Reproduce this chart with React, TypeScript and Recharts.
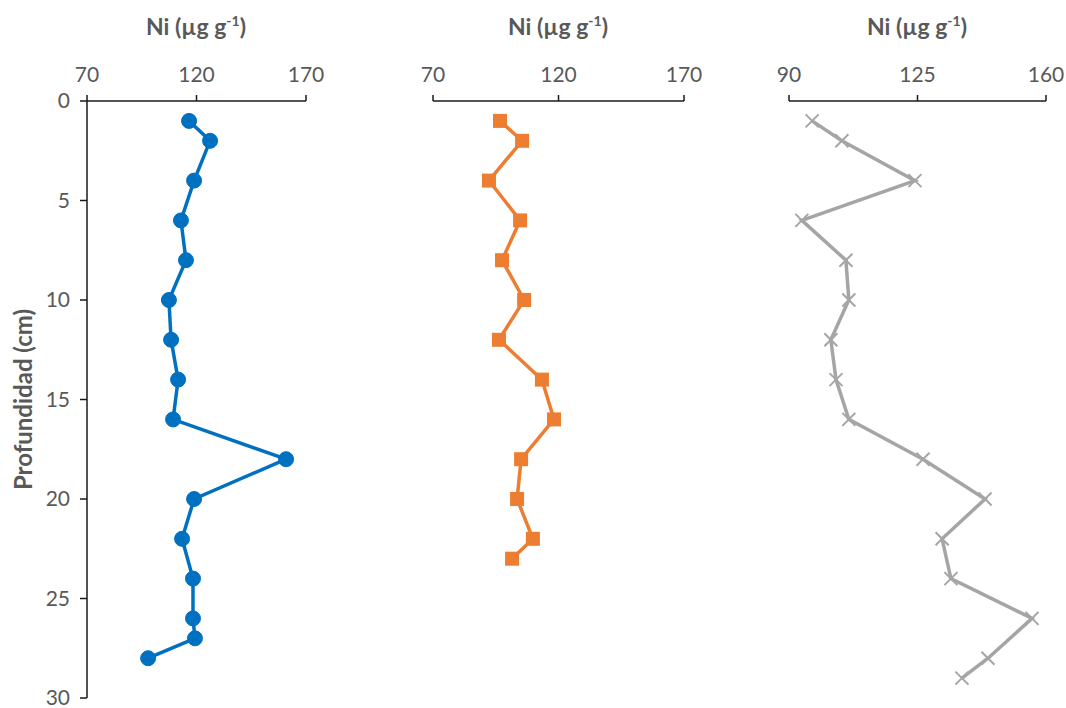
import React from "react";
import { LineChart, Line, XAxis, YAxis } from "recharts";

// Ni profiles, depth in cm
const blueDepth = [1, 2, 4, 6, 8, 10, 12, 14, 16, 18, 20, 22, 24, 26, 27, 28];
const blueNi = [116.6, 126.2, 118.9, 112.9, 115.2, 107.4, 108.4, 111.6, 109.3, 160.9, 118.9, 113.4, 118.4, 118.4, 119.3, 97.9];

const orangeDepth = [1, 2, 4, 6, 8, 10, 12, 14, 16, 18, 20, 22, 23];
const orangeNi = [96.7, 105.5, 92.3, 104.7, 97.5, 106.3, 96.3, 113.4, 118.2, 105.1, 103.5, 109.8, 101.5];

const grayDepth = [1, 2, 4, 6, 8, 10, 12, 14, 16, 18, 20, 22, 24, 26, 28, 29];
const grayNi = [96.3, 104.4, 124.3, 93.5, 105.5, 106.3, 101.4, 102.8, 106.3, 126.5, 143.4, 131.7, 134.1, 156.2, 144.2, 137.1];

const depthTicks = [0, 5, 10, 15, 20, 25, 30];
const niTicksA = [70, 120, 170];
const niTicksB = [90, 125, 160];

const toRows = (depth: number[], ni: number[]) =>
  depth.map((d, i) => ({ depth: d, ni: ni[i] }));

const FONT = "Lato, 'Open Sans', sans-serif";
const TEXT = "#595959";
const AXIS = "#1a1a1a";

const tickStyle = { fill: TEXT, fontSize: 21, fontFamily: FONT };

const SquareDot = (props: any) => {
  const { cx, cy } = props;
  if (cx == null || cy == null) return null;
  return <rect x={cx - 7} y={cy - 7} width={14} height={14} fill="#ED7D31" />;
};

const CrossDot = (props: any) => {
  const { cx, cy } = props;
  if (cx == null || cy == null) return null;
  const s = 6.5;
  return (
    <g stroke="#A5A5A5" strokeWidth={2}>
      <line x1={cx - s} y1={cy - s} x2={cx + s} y2={cy + s} />
      <line x1={cx - s} y1={cy + s} x2={cx + s} y2={cy - s} />
    </g>
  );
};

const DepthLabel = (props: any) => {
  const vb = props.viewBox || { x: 0, y: 0, height: 0 };
  const x = vb.x + 22;
  const y = vb.y + vb.height / 2;
  return (
    <text
      x={x}
      y={y}
      transform={`rotate(-90 ${x} ${y})`}
      textAnchor="middle"
      dominantBaseline="central"
      fill={TEXT}
      fontSize={24}
      fontWeight="bold"
      fontFamily={FONT}
    >
      Profundidad (cm)
    </text>
  );
};

const Title = ({ center }: { center: number }) => (
  <div
    style={{
      position: "absolute",
      left: center - 100,
      top: 12,
      width: 200,
      textAlign: "center",
      fontFamily: FONT,
      fontWeight: "bold",
      fontSize: 23,
      color: TEXT,
    }}
  >
    Ni (µg g<sup style={{ fontSize: 14 }}>-1</sup>)
  </div>
);

interface PanelProps {
  left: number;
  width: number;
  margin: { top: number; right: number; bottom: number; left: number };
  data: { depth: number; ni: number }[];
  domain: [number, number];
  ticks: number[];
  showDepth?: boolean;
  series: React.ReactNode;
}

function Panel({ left, width, margin, data, domain, ticks, showDepth, series }: PanelProps) {
  return (
    <div style={{ position: "absolute", left, top: 0 }}>
      <LineChart width={width} height={708} data={data} layout="vertical" margin={margin}>
        <XAxis
          type="number"
          orientation="top"
          domain={domain}
          ticks={ticks}
          height={101}
          tick={tickStyle}
          tickSize={6}
          tickMargin={13}
          interval={0}
          axisLine={{ stroke: AXIS, strokeWidth: 1.5 }}
          tickLine={{ stroke: AXIS, strokeWidth: 1.5 }}
          allowDataOverflow
        />
        <YAxis
          type="number"
          dataKey="depth"
          domain={[0, 30]}
          ticks={depthTicks}
          width={87}
          hide={!showDepth}
          tick={tickStyle}
          tickSize={7}
          tickMargin={10}
          interval={0}
          axisLine={{ stroke: AXIS, strokeWidth: 1.5 }}
          tickLine={{ stroke: AXIS, strokeWidth: 1.5 }}
          label={showDepth ? <DepthLabel /> : undefined}
        />
        {series}
      </LineChart>
    </div>
  );
}

export default function App() {
  return (
    <div style={{ position: "absolute", left: 0, top: 0, width: 1066, height: 708, background: "#fff" }}>
      <Panel
        left={0}
        width={340}
        margin={{ top: 0, right: 34, bottom: 10, left: 0 }}
        data={toRows(blueDepth, blueNi)}
        domain={[70, 170]}
        ticks={niTicksA}
        showDepth
        series={
          <Line
            dataKey="ni"
            stroke="#0070C0"
            strokeWidth={3.5}
            dot={{ r: 7.5, fill: "#0070C0", stroke: "#0070C0", strokeWidth: 1 }}
            isAnimationActive={false}
          />
        }
      />
      <Panel
        left={380}
        width={340}
        margin={{ top: 0, right: 36, bottom: 10, left: 53 }}
        data={toRows(orangeDepth, orangeNi)}
        domain={[70, 170]}
        ticks={niTicksA}
        series={
          <Line
            dataKey="ni"
            stroke="#ED7D31"
            strokeWidth={3.5}
            dot={<SquareDot />}
            isAnimationActive={false}
          />
        }
      />
      <Panel
        left={740}
        width={326}
        margin={{ top: 0, right: 20, bottom: 10, left: 49 }}
        data={toRows(grayDepth, grayNi)}
        domain={[90, 160]}
        ticks={niTicksB}
        series={
          <Line
            dataKey="ni"
            stroke="#A5A5A5"
            strokeWidth={3.5}
            dot={<CrossDot />}
            isAnimationActive={false}
          />
        }
      />
      <Title center={196} />
      <Title center={558} />
      <Title center={917} />
    </div>
  );
}
